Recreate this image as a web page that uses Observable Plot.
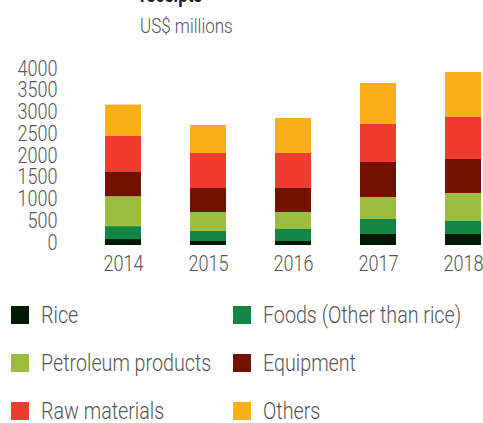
<!DOCTYPE html>
<html>
<head>
<meta charset="utf-8">
<script src="https://cdn.jsdelivr.net/npm/d3@7"></script>
<script src="https://cdn.jsdelivr.net/npm/@observablehq/plot@0.6"></script>
<style>
  html, body { margin: 0; padding: 0; background: #fff; }
  body { width: 483px; height: 423px; position: relative; overflow: hidden;
         font-family: Roboto, sans-serif; font-weight: 300; color: #555; }
  .cond { display: inline-block; transform: scaleX(0.78); transform-origin: left center; white-space: nowrap; }
  .title { position: absolute; left: 140px; top: -16px; font-weight: bold; font-size: 22px; line-height: 21px; color: #222; white-space: nowrap; }
  .subtitle { position: absolute; left: 140px; top: 14px; font-size: 21px; line-height: 24px; color: #555; white-space: nowrap; }
  .subtitle .cond { transform: scaleX(0.81); }
  #chart { position: absolute; left: 0; top: 50px; }
  .legend-item { position: absolute; display: flex; align-items: center; font-size: 24px; line-height: 24px; color: #555; white-space: nowrap; }
  .legend-item .cond { transform: scaleX(0.82); }
  .legend-item .sw { width: 18px; height: 18px; margin-right: 12px; flex: none; }
</style>
</head>
<body>
<div class="title"><span class="cond">receipts</span></div>
<div class="subtitle"><span class="cond">US$ millions</span></div>
<div id="chart"></div>
<div id="legend"></div>
<script>
const years = ["2014", "2015", "2016", "2017", "2018"];
const series = ["Rice", "Foods (Other than rice)", "Petroleum products", "Equipment", "Raw materials", "Others"];
const colors = ["#011a02", "#118645", "#9bbe3e", "#711100", "#f03c2e", "#fbb01a"];
const rice = [137, 92, 92, 253, 253];
const foods = [297, 230, 276, 345, 299];
const petroleum = [687, 436, 391, 505, 644];
const equipment = [573, 552, 552, 805, 782];
const rawMaterials = [823, 805, 805, 874, 966];
const others = [710, 644, 804, 942, 1034];
const yTicks = [0, 500, 1000, 1500, 2000, 2500, 3000, 3500, 4000];

const valuesBySeries = [rice, foods, petroleum, equipment, rawMaterials, others];
const data = [];
series.forEach((s, i) => years.forEach((y, j) => data.push({year: y, series: s, value: valuesBySeries[i][j]})));

const chart = Plot.plot({
  width: 483,
  height: 230,
  marginLeft: 60,
  marginTop: 21,
  marginBottom: 35,
  marginRight: 0,
  style: {fontFamily: "Roboto, sans-serif", fontWeight: 300, color: "#555", background: "transparent"},
  x: {domain: years, range: [103, 482], paddingInner: 0.58, paddingOuter: 0, label: null},
  y: {domain: [0, 4000], label: null},
  color: {domain: series, range: colors},
  marks: [
    Plot.barY(data, {x: "year", y: "value", fill: "series", order: series}),
    Plot.axisY({ticks: yTicks, tickFormat: d => String(d), tickSize: 0, tickPadding: 3, fontSize: 22, dy: -3, label: null, fill: "#555"}),
    Plot.axisX({tickSize: 0, tickPadding: 10, fontSize: 22, label: null, fill: "#555"})
  ]
});
document.getElementById("chart").appendChild(chart);
chart.querySelectorAll('g[aria-label$="tick label"] text').forEach(t => {
  const w = t.getComputedTextLength();
  t.setAttribute("textLength", (w * 0.82).toFixed(2));
  t.setAttribute("lengthAdjust", "spacingAndGlyphs");
});

const legend = document.getElementById("legend");
const colX = [11, 233];
const rowY = [303, 351, 399];
series.forEach((s, i) => {
  const item = document.createElement("div");
  item.className = "legend-item";
  item.style.left = colX[i % 2] + "px";
  item.style.top = rowY[Math.floor(i / 2)] + "px";
  const sw = document.createElement("span");
  sw.className = "sw";
  sw.style.background = colors[i];
  const label = document.createElement("span");
  label.className = "cond";
  label.textContent = s;
  item.appendChild(sw);
  item.appendChild(label);
  legend.appendChild(item);
});
</script>
</body>
</html>
